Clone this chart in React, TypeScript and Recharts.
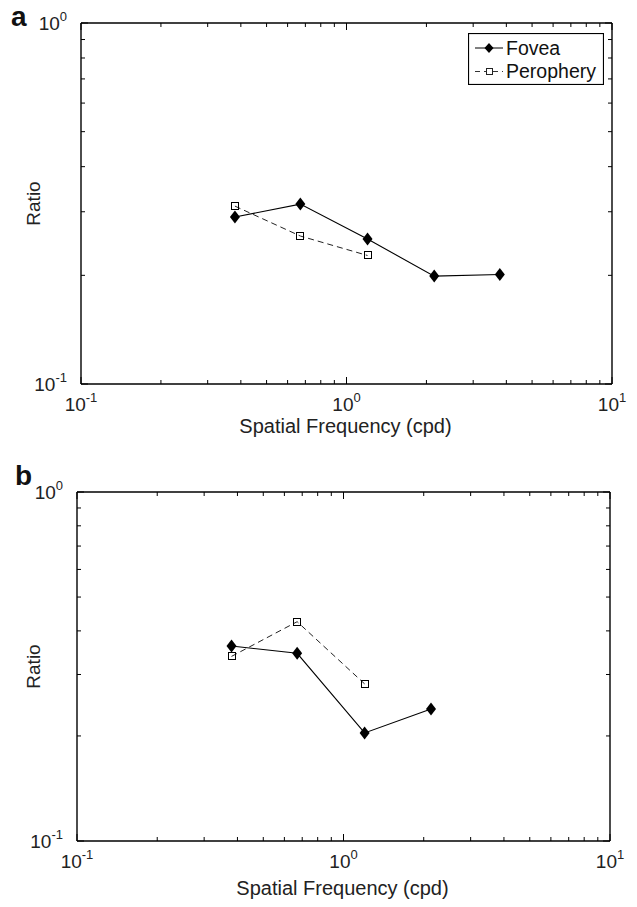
import React from 'react';
import { ScatterChart, Scatter, XAxis, YAxis, Legend } from 'recharts';

const FONT = '"Liberation Sans", Arial, Helvetica, sans-serif';

// panel a
const freqFoveaA = [0.38, 0.67, 1.2, 2.14, 3.78];
const ratioFoveaA = [0.29, 0.315, 0.252, 0.199, 0.201];
const freqPeriA = [0.38, 0.67, 1.2];
const ratioPeriA = [0.311, 0.257, 0.227];

// panel b
const freqFoveaB = [0.38, 0.67, 1.2, 2.13];
const ratioFoveaB = [0.362, 0.345, 0.204, 0.239];
const freqPeriB = [0.38, 0.67, 1.2];
const ratioPeriB = [0.338, 0.425, 0.282];

const xTicks = [0.1, 0.2, 0.3, 0.4, 0.5, 0.6, 0.7, 0.8, 0.9, 1, 2, 3, 4, 5, 6, 7, 8, 9, 10];
const yTicks = [0.1, 0.2, 0.3, 0.4, 0.5, 0.6, 0.7, 0.8, 0.9, 1];
const decadeExp: Record<string, string> = { '0.1': '-1', '1': '0', '10': '1' };

const zip = (xs: number[], ys: number[]) => xs.map((x, i) => ({ x, y: ys[i] }));

const Diamond = (props: any) => {
  const { cx, cy } = props;
  return <path d={`M${cx},${cy - 6.5}L${cx + 5},${cy}L${cx},${cy + 6.5}L${cx - 5},${cy}Z`} fill="#000" />;
};

const Square = (props: any) => {
  const { cx, cy } = props;
  return (
    <rect
      x={Math.round(cx) - 3.5}
      y={Math.round(cy) - 3.5}
      width={7}
      height={7}
      fill="none"
      stroke="#000"
      strokeWidth={1}
    />
  );
};

const makeTick = (side: string) => (props: any) => {
  const { x, y, payload } = props;
  const exp = decadeExp[String(payload.value)];
  const len = exp !== undefined ? 7 : 4;
  let x2 = x;
  let y2 = y;
  if (side === 'bottom') y2 = y - len;
  if (side === 'top') y2 = y + len;
  if (side === 'left') x2 = x + len;
  if (side === 'right') x2 = x - len;
  let label = null;
  if (exp !== undefined && side === 'bottom') {
    label = (
      <text x={x} y={y + 27} textAnchor="middle" fontSize={19} fontFamily={FONT} fill="#222">
        10<tspan dy={-9} fontSize={13}>{exp}</tspan>
      </text>
    );
  }
  if (exp !== undefined && side === 'left') {
    label = (
      <text x={x - 14} y={y + 7} textAnchor="end" fontSize={19} fontFamily={FONT} fill="#222">
        10<tspan dy={-9} fontSize={13}>{exp}</tspan>
      </text>
    );
  }
  return (
    <g>
      <line x1={x} y1={y} x2={x2} y2={y2} stroke="#000" strokeWidth={1} />
      {label}
    </g>
  );
};

const renderLegend = () => (
  <svg width={136} height={52} style={{ display: 'block' }}>
    <rect x={0.5} y={0.5} width={135} height={51} fill="#fff" stroke="#000" strokeWidth={1.2} />
    <line x1={7} y1={15} x2={35} y2={15} stroke="#000" strokeWidth={1} />
    <path d="M21,10L25.5,15L21,20L16.5,15Z" fill="#000" />
    <text x={38} y={21.5} fontSize={19.5} fontFamily={FONT} fill="#111">Fovea</text>
    <line x1={7} y1={38.5} x2={35} y2={38.5} stroke="#333" strokeWidth={1} strokeDasharray="5 4" />
    <rect x={18.5} y={35.5} width={6} height={6} fill="#fff" stroke="#222" strokeWidth={1} />
    <text x={38} y={44.5} fontSize={19.5} fontFamily={FONT} fill="#111">Perophery</text>
  </svg>
);

const axisStroke = { stroke: '#000', strokeWidth: 1.4 };

type PanelProps = {
  top: number;
  height: number;
  plot: { top: number; right: number; bottom: number; left: number };
  labelOffset: number;
  letter: string;
  letterPos: { x: number; y: number };
  fovea: { x: number; y: number }[];
  peri: { x: number; y: number }[];
  legend: boolean;
};

const Panel = ({ top, height, plot, labelOffset, letter, letterPos, fovea, peri, legend }: PanelProps) => (
  <div style={{ position: 'absolute', left: 0, top, width: 637, height }}>
    <div
      style={{
        position: 'absolute',
        left: letterPos.x,
        top: letterPos.y,
        fontFamily: FONT,
        fontWeight: 'bold',
        fontSize: 28,
        lineHeight: '28px',
        color: '#111',
      }}
    >
      {letter}
    </div>
    <ScatterChart
      width={637}
      height={height}
      margin={{ top: plot.top - 1, right: plot.right - 1, bottom: plot.bottom - 60, left: plot.left - 60 }}
    >
      <XAxis
        xAxisId="b"
        dataKey="x"
        type="number"
        scale="log"
        domain={[0.1, 10]}
        ticks={xTicks}
        interval={0}
        allowDataOverflow
        height={60}
        tickSize={0}
        tickMargin={0}
        tickLine={false}
        axisLine={axisStroke}
        tick={makeTick('bottom')}
        label={{
          content: (p: any) => {
            const vb = p.viewBox;
            return (
              <text x={vb.x + vb.width / 2 - 1} y={vb.y + labelOffset} textAnchor="middle" fontSize={20} fontFamily={FONT} fill="#222">
                Spatial Frequency (cpd)
              </text>
            );
          },
        }}
      />
      <XAxis
        xAxisId="t"
        orientation="top"
        dataKey="x"
        type="number"
        scale="log"
        domain={[0.1, 10]}
        ticks={xTicks}
        interval={0}
        allowDataOverflow
        height={1}
        tickSize={0}
        tickMargin={0}
        tickLine={false}
        axisLine={axisStroke}
        tick={makeTick('top')}
      />
      <YAxis
        yAxisId="l"
        dataKey="y"
        type="number"
        scale="log"
        domain={[0.1, 1]}
        ticks={yTicks}
        interval={0}
        allowDataOverflow
        width={60}
        tickSize={0}
        tickMargin={0}
        tickLine={false}
        axisLine={axisStroke}
        tick={makeTick('left')}
        label={{
          content: (p: any) => {
            const vb = p.viewBox;
            const cy = vb.y + vb.height / 2;
            return (
              <text x={40} y={cy} textAnchor="middle" fontSize={19} fontFamily={FONT} fill="#222" transform={`rotate(-90, 40, ${cy})`}>
                Ratio
              </text>
            );
          },
        }}
      />
      <YAxis
        yAxisId="r"
        orientation="right"
        dataKey="y"
        type="number"
        scale="log"
        domain={[0.1, 1]}
        ticks={yTicks}
        interval={0}
        allowDataOverflow
        width={1}
        tickSize={0}
        tickMargin={0}
        tickLine={false}
        axisLine={axisStroke}
        tick={makeTick('right')}
      />
      {legend && (
        <Legend
          layout="vertical"
          verticalAlign="middle"
          align="center"
          content={renderLegend}
          wrapperStyle={{ position: 'absolute', left: 468, top: 33, width: 136, height: 52 }}
        />
      )}
      <Scatter
        name="Perophery"
        data={peri}
        xAxisId="b"
        yAxisId="l"
        shape={Square}
        line={{ stroke: '#222', strokeWidth: 1, strokeDasharray: '6 4' }}
        lineJointType="linear"
        isAnimationActive={false}
      />
      <Scatter
        name="Fovea"
        data={fovea}
        xAxisId="b"
        yAxisId="l"
        shape={Diamond}
        line={{ stroke: '#000', strokeWidth: 1.1 }}
        lineJointType="linear"
        isAnimationActive={false}
      />
    </ScatterChart>
  </div>
);

export default function App() {
  return (
    <div style={{ position: 'absolute', left: 0, top: 0, width: 637, height: 907, background: '#fff' }}>
      <Panel
        top={0}
        height={450}
        plot={{ top: 23, right: 25, bottom: 66, left: 81 }}
        labelOffset={49}
        letter="a"
        letterPos={{ x: 11, y: 3 }}
        fovea={zip(freqFoveaA, ratioFoveaA)}
        peri={zip(freqPeriA, ratioPeriA)}
        legend
      />
      <Panel
        top={450}
        height={457}
        plot={{ top: 42, right: 27, bottom: 66, left: 77 }}
        labelOffset={54}
        letter="b"
        letterPos={{ x: 15, y: 12 }}
        fovea={zip(freqFoveaB, ratioFoveaB)}
        peri={zip(freqPeriB, ratioPeriB)}
        legend={false}
      />
    </div>
  );
}
